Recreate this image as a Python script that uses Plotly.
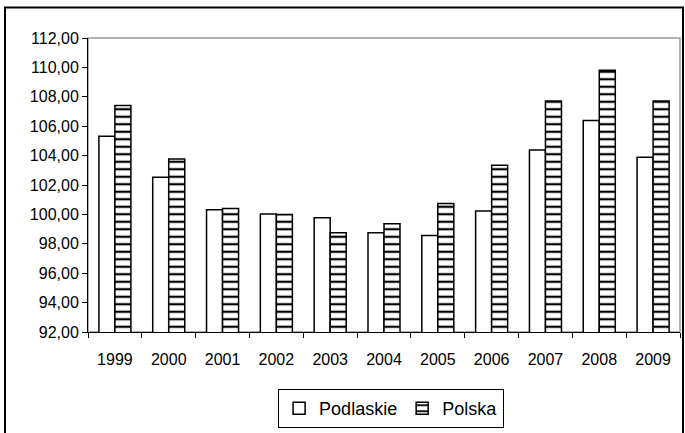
import plotly.graph_objects as go

years = ["1999", "2000", "2001", "2002", "2003", "2004", "2005", "2006", "2007", "2008", "2009"]
podlaskie = [105.32, 102.52, 100.32, 100.03, 99.78, 98.75, 98.57, 100.23, 104.38, 106.38, 103.89]
polska = [107.41, 103.77, 100.40, 100.00, 98.75, 99.37, 100.74, 103.35, 107.72, 109.81, 107.72]
y_ticks = [92, 94, 96, 98, 100, 102, 104, 106, 108, 110, 112]

W, H = 685, 433
L, R, T, B = 88, 5, 38, 96
pw, ph = W - L - R, H - T - B

fig = go.Figure()
fig.add_trace(go.Bar(
    x=years, y=podlaskie, name="Podlaskie",
    marker=dict(color="white", line=dict(color="black", width=1.5)),
))
fig.add_trace(go.Bar(
    x=years, y=polska, name="Polska",
    marker=dict(color="white", line=dict(color="black", width=1.5),
                pattern=dict(shape="-", fgcolor="black", bgcolor="white",
                             size=7.5, solidity=0.3, fillmode="replace")),
))
# invisible helper trace so the label axis (x2) is rendered
fig.add_trace(go.Scatter(
    x=years, y=podlaskie, xaxis="x2", mode="markers",
    marker=dict(opacity=0), showlegend=False, hoverinfo="skip",
))

def px_x(x):
    return (x - L) / pw

def px_y(y):
    return (H - B - y) / ph

n = len(years)
fig.update_layout(
    width=W, height=H,
    margin=dict(l=L, r=R, t=T, b=B),
    paper_bgcolor="white", plot_bgcolor="white",
    barmode="group", bargap=0.405, bargroupgap=0,
    separators=", ",
    font=dict(family="Liberation Sans, Arial, sans-serif", size=15, color="black"),
    showlegend=True,
    legend=dict(orientation="h", x=0.512, xanchor="center", y=px_y(395), yanchor="top",
                bordercolor="black", borderwidth=1, font=dict(size=18),
                itemwidth=30, tracegroupgap=0),
    xaxis=dict(type="category", range=[-0.5, n - 0.5], showgrid=False, showline=True,
               linecolor="black", linewidth=1, ticks="outside", tickson="boundaries",
               ticklen=5, tickcolor="black", showticklabels=False, automargin=False),
    xaxis2=dict(type="category", overlaying="x", side="bottom", anchor="y",
                range=[-0.5, n - 0.5], ticks="outside", ticklen=13,
                tickcolor="rgba(0,0,0,0)", showgrid=False, showline=False, zeroline=False,
                tickfont=dict(size=16), automargin=False),
    yaxis=dict(range=[92, 112], tickvals=y_ticks, tickformat=".2f", showgrid=False,
               showline=True, linecolor="black", linewidth=1, ticks="outside",
               ticklen=5, tickcolor="black", tickfont=dict(size=16), zeroline=False,
               automargin=False),
    shapes=[
        dict(type="rect", xref="paper", yref="paper", x0=0, x1=1, y0=0, y1=1,
             line=dict(color="#999999", width=1.5), layer="below"),
        dict(type="rect", xref="paper", yref="paper",
             x0=px_x(5), x1=px_x(683), y0=px_y(7), y1=px_y(445),
             line=dict(color="black", width=2), layer="below"),
    ],
)

fig.write_html("out.html", config={"displayModeBar": False},
               post_script="document.body.style.margin='0';document.body.style.overflow='hidden';")
